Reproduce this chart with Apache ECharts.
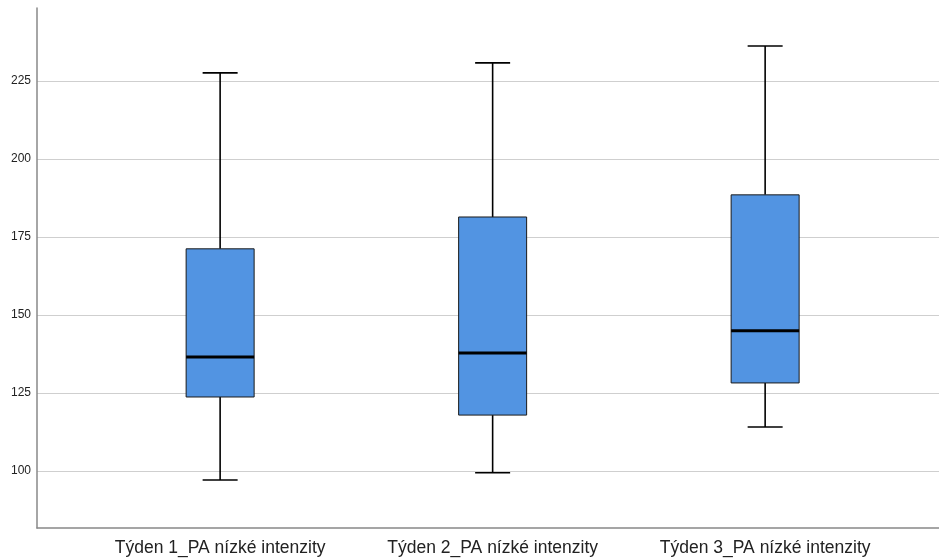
<!DOCTYPE html>
<html>
<head>
<meta charset="utf-8">
<script src="https://cdn.jsdelivr.net/npm/echarts@6/dist/echarts.min.js"></script>
<style>
  html, body { margin: 0; padding: 0; background: #fff; }
  #main { width: 939px; height: 559px; }
</style>
</head>
<body>
<div id="main"></div>
<script>
const categories = ['Týden 1_PA nízké intenzity', 'Týden 2_PA nízké intenzity', 'Týden 3_PA nízké intenzity'];
const minValues = [97.1, 99.4, 114.1];
const q1Values = [123.7, 117.9, 128.2];
const medianValues = [136.5, 137.8, 144.9];
const q3Values = [171.2, 181.4, 188.5];
const maxValues = [227.6, 230.8, 236.2];
const yTicks = [100, 125, 150, 175, 200, 225];

const boxData = categories.map(function (c, i) {
    return [i + 1, minValues[i], q1Values[i], medianValues[i], q3Values[i], maxValues[i]];
});

let myChart = echarts.init(document.getElementById('main'));

function renderBox(params, api) {
    const x = api.value(0);
    const pMin = api.coord([x, api.value(1)]);
    const pQ1 = api.coord([x, api.value(2)]);
    const pMed = api.coord([x, api.value(3)]);
    const pQ3 = api.coord([x, api.value(4)]);
    const pMax = api.coord([x, api.value(5)]);
    const boxW = 68;
    const capW = 35;
    const cx = pMed[0];
    const whisker = { stroke: '#000', lineWidth: 1.6 };
    return {
        type: 'group',
        children: [
            { type: 'line', shape: { x1: cx, y1: pMax[1], x2: cx, y2: pQ3[1] }, style: whisker },
            { type: 'line', shape: { x1: cx, y1: pQ1[1], x2: cx, y2: pMin[1] }, style: whisker },
            { type: 'line', shape: { x1: cx - capW / 2, y1: pMax[1], x2: cx + capW / 2, y2: pMax[1] }, style: whisker },
            { type: 'line', shape: { x1: cx - capW / 2, y1: pMin[1], x2: cx + capW / 2, y2: pMin[1] }, style: whisker },
            {
                type: 'rect',
                shape: { x: cx - boxW / 2, y: pQ3[1], width: boxW, height: pQ1[1] - pQ3[1] },
                style: { fill: '#5294e2', stroke: '#1a1a1a', lineWidth: 1 }
            },
            { type: 'line', shape: { x1: cx - boxW / 2, y1: pMed[1], x2: cx + boxW / 2, y2: pMed[1] }, style: { stroke: '#000', lineWidth: 3 } }
        ]
    };
}

const option = {
    animation: false,
    grid: { left: 37, right: 0, top: 8, bottom: 31 },
    xAxis: {
        type: 'value',
        min: 0.328,
        max: 3.638,
        splitLine: { show: false },
        axisLine: { show: true, onZero: false, lineStyle: { color: '#888', width: 1.5 } },
        axisTick: { show: false },
        axisLabel: {
            customValues: [1, 2, 3],
            formatter: function (v) { return categories[Math.round(v) - 1] || ''; },
            color: '#222',
            fontSize: 17.5,
            fontFamily: 'Arial, Liberation Sans, sans-serif',
            margin: 11
        }
    },
    yAxis: {
        type: 'value',
        min: 81.7,
        max: 248.4,
        axisLine: { show: true, lineStyle: { color: '#888', width: 1.5 } },
        axisTick: { show: false, customValues: yTicks },
        splitLine: { show: true, lineStyle: { color: '#cfcfcf', width: 1.2 } },
        axisLabel: {
            customValues: yTicks,
            color: '#222',
            fontSize: 12,
            fontFamily: 'Arial, Liberation Sans, sans-serif',
            margin: 6
        }
    },
    series: [
        {
            type: 'custom',
            renderItem: renderBox,
            encode: { x: 0, y: [1, 2, 3, 4, 5] },
            data: boxData
        }
    ]
};
myChart.setOption(option);
</script>
</body>
</html>
